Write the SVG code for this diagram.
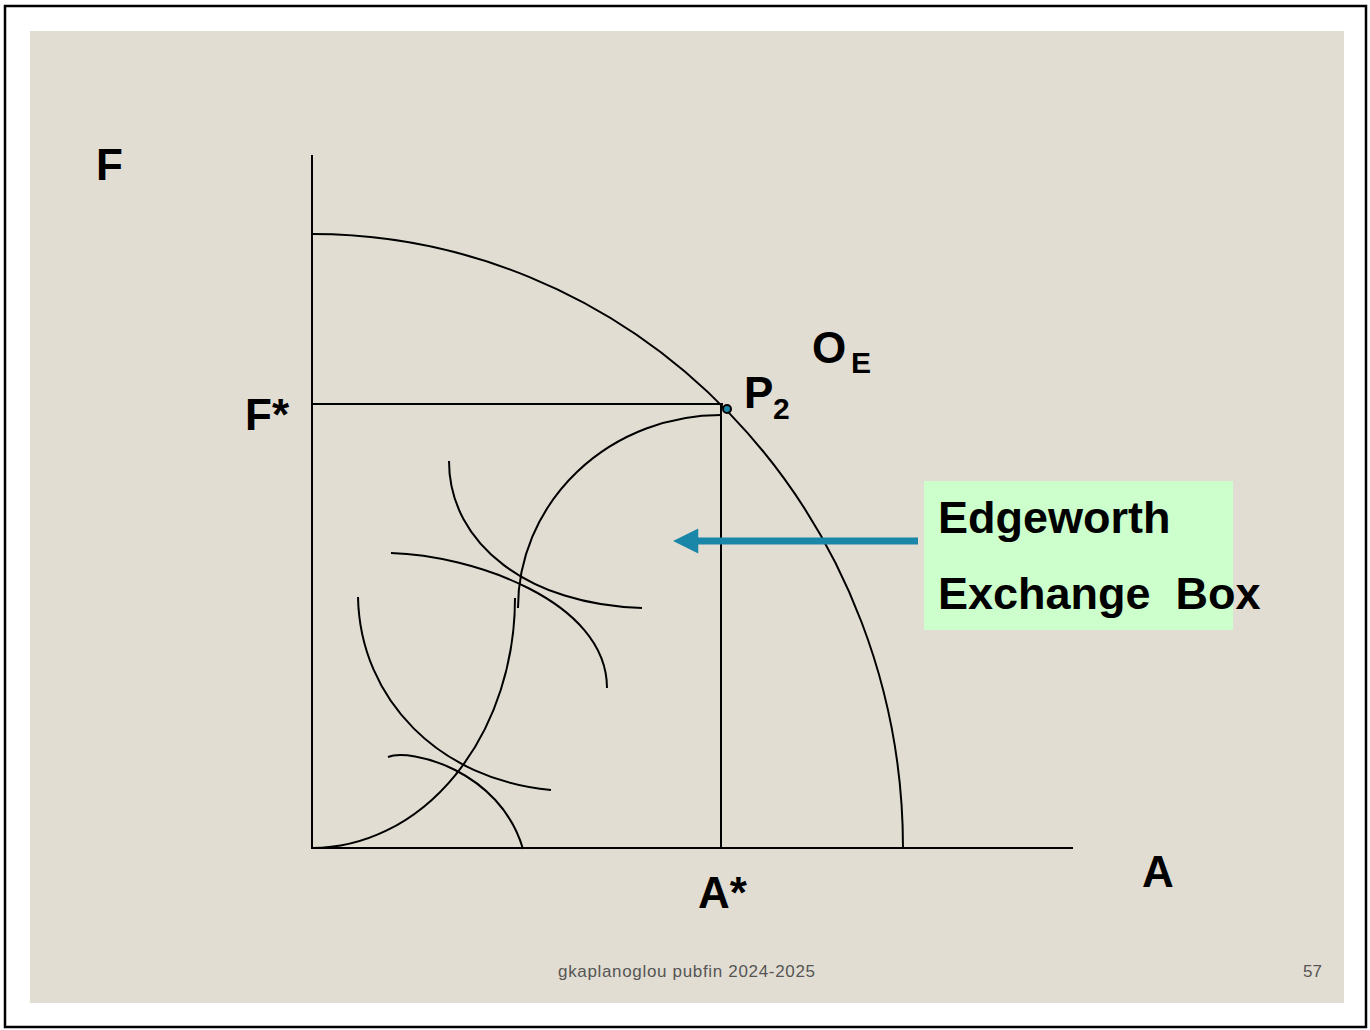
<svg xmlns="http://www.w3.org/2000/svg" width="1370" height="1030" viewBox="0 0 1370 1030">
  <style>
    .ln { fill: none; stroke: #000; stroke-width: 2; }
    .lbl { font-family: "Liberation Sans", Arial, sans-serif; font-weight: bold; fill: #000; }
    .big { font-size: 44px; }
    .box { font-size: 45px; }
    .sub { font-size: 30px; }
    .foot { font-family: "Liberation Sans", Arial, sans-serif; font-size: 17px; fill: #555; }
  </style>
  <defs>
    <marker id="ah" viewBox="0 0 10 10" refX="0.5" refY="5" markerWidth="4.2" markerHeight="3.6" orient="auto" markerUnits="strokeWidth">
      <path d="M0,0 L10,5 L0,10 z" fill="#1A86A8"/>
    </marker>
  </defs>
  <rect x="0" y="0" width="1370" height="1030" fill="#fff"/>
  <rect x="5" y="6" width="1361" height="1021" fill="none" stroke="#000" stroke-width="2.5"/>
  <rect x="30" y="31" width="1314" height="972" fill="#E2DDD2"/>

  <g id="axes">
    <line class="ln" x1="312" y1="155" x2="312" y2="849"/>
    <line class="ln" x1="311" y1="848" x2="1073" y2="848"/>
  </g>

  <g id="ppf">
    <path class="ln" d="M312,234 A591,614 0 0 1 903,848"/>
  </g>

  <g id="guides">
    <line class="ln" x1="312" y1="404" x2="723" y2="404"/>
    <line class="ln" x1="721" y1="404" x2="721" y2="848"/>
  </g>

  <g id="contract-curve">
    <path class="ln" d="M312,848 A203,250 0 0 0 515,598"/>
    <path class="ln" d="M518,608 A203,193 0 0 1 721,415"/>
  </g>

  <g id="indifference-curves">
    <path class="ln" d="M449,461 C449,545 530,605 642,608"/>
    <path class="ln" d="M391,553 C470,555 607,600 607,688"/>
    <path class="ln" d="M358,597 C360,700 440,780 551,790"/>
    <path class="ln" d="M388,757 C410,748 500,770 523,849"/>
  </g>

  <g id="point-p2">
    <circle cx="727" cy="409" r="4" fill="#1A86A8" stroke="#000" stroke-width="2"/>
  </g>

  <g id="connectors">
    <line x1="918" y1="541" x2="697" y2="541" stroke="#1A86A8" stroke-width="7" marker-end="url(#ah)"/>
  </g>

  <g id="edgeworth-box">
    <rect x="924" y="481" width="309" height="149" fill="#CCFFCC"/>
    <text class="lbl box" x="938" y="533">Edgeworth</text>
    <text class="lbl box" x="938" y="609" style="white-space:pre" xml:space="preserve">Exchange  Box</text>
  </g>

  <g id="labels">
    <text class="lbl big" x="96" y="180">F</text>
    <text class="lbl big" x="245" y="430">F*</text>
    <text class="lbl big" x="698" y="908">A*</text>
    <text class="lbl big" x="1142" y="887">A</text>
    <text class="lbl big" x="744" y="408">P</text>
    <text class="lbl sub" x="773" y="419">2</text>
    <text class="lbl big" x="812" y="363">O</text>
    <text class="lbl sub" x="851" y="373">E</text>
  </g>

  <g id="footer">
    <text class="foot" x="558" y="977" textLength="257" lengthAdjust="spacing">gkaplanoglou pubfin 2024-2025</text>
    <text class="foot" x="1322" y="977" text-anchor="end">57</text>
  </g>
</svg>
